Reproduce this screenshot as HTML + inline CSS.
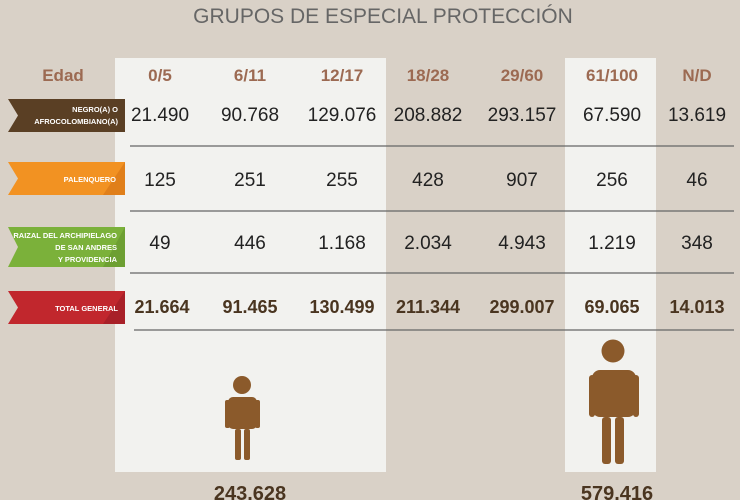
<!DOCTYPE html>
<html><head><meta charset="utf-8"><style>
html,body{margin:0;padding:0;background:#d9d1c7;}
svg{display:block;font-family:"Liberation Sans",sans-serif;}
</style></head><body>
<svg width="740" height="500" viewBox="0 0 740 500" xmlns="http://www.w3.org/2000/svg">
<rect width="740" height="500" fill="#d9d1c7"/>
<rect x="115" y="58" width="271" height="414" fill="#f2f2ef"/>
<rect x="565" y="58" width="91" height="414" fill="#f2f2ef"/>
<text x="383" y="23" font-size="21" fill="#666" text-anchor="middle">GRUPOS DE ESPECIAL PROTECCIÓN</text>
<g font-size="17" font-weight="bold" fill="#9c6a52" text-anchor="middle">
<text x="63" y="81">Edad</text><text x="160" y="81">0/5</text><text x="250" y="81">6/11</text><text x="342" y="81">12/17</text><text x="428" y="81">18/28</text><text x="522" y="81">29/60</text><text x="612" y="81">61/100</text><text x="697" y="81">N/D</text>
</g>
<g stroke="#666" stroke-width="1.3">
<line x1="130" y1="146" x2="734" y2="146"/><line x1="130" y1="211" x2="734" y2="211"/><line x1="130" y1="273" x2="734" y2="273"/><line x1="134" y1="330" x2="734" y2="330"/>
</g>
<polygon points="8,99 125,99 125,132 8,132 18,115.5" fill="#5a3f24"/>
<polygon points="8,162 125,162 125,195 8,195 18,178.5" fill="#f29222"/>
<polygon points="103,195 125,162 125,195" fill="#e07f1a"/>
<polygon points="8,227 125,227 125,267 8,267 18,247" fill="#7bb13a"/>
<polygon points="103,267 125,227 125,267" fill="#6d9f32"/>
<polygon points="8,291 125,291 125,324 8,324 18,307.5" fill="#c1272d"/>
<polygon points="103,324 125,291 125,324" fill="#a82028"/>
<g fill="#fff" font-size="7.5" font-weight="bold" text-anchor="end">
<text x="118" y="112">NEGRO(A) O</text><text x="118" y="124">AFROCOLOMBIANO(A)</text>
<text x="116" y="182">PALENQUERO</text>
<text x="117" y="238">RAIZAL DEL ARCHIPIELAGO</text><text x="117" y="250">DE SAN ANDRES</text><text x="117" y="262">Y PROVIDENCIA</text>
<text x="118" y="311">TOTAL GENERAL</text>
</g>
<g font-size="19" fill="#222" text-anchor="middle">
<text x="160" y="121">21.490</text><text x="250" y="121">90.768</text><text x="342" y="121">129.076</text><text x="428" y="121">208.882</text><text x="522" y="121">293.157</text><text x="612" y="121">67.590</text><text x="697" y="121">13.619</text>
<text x="160" y="186">125</text><text x="250" y="186">251</text><text x="342" y="186">255</text><text x="428" y="186">428</text><text x="522" y="186">907</text><text x="612" y="186">256</text><text x="697" y="186">46</text>
<text x="160" y="249">49</text><text x="250" y="249">446</text><text x="342" y="249">1.168</text><text x="428" y="249">2.034</text><text x="522" y="249">4.943</text><text x="612" y="249">1.219</text><text x="697" y="249">348</text>
</g>
<g font-size="18" font-weight="bold" fill="#4a3520" text-anchor="middle">
<text x="162" y="313">21.664</text><text x="250" y="313">91.465</text><text x="342" y="313">130.499</text><text x="428" y="313">211.344</text><text x="522" y="313">299.007</text><text x="612" y="313">69.065</text><text x="697" y="313">14.013</text>
</g>
<g font-size="20" font-weight="bold" fill="#4a3520" text-anchor="middle">
<text x="250" y="500">243.628</text><text x="617" y="500">579.416</text>
</g>
<g fill="#8b5a2b">
<circle cx="242" cy="385" r="9"/>
<rect x="228" y="397" width="29" height="32" rx="5"/>
<rect x="225" y="400" width="5" height="28" rx="2"/><rect x="255" y="400" width="5" height="28" rx="2"/>
<rect x="235" y="429" width="6" height="31" rx="2"/><rect x="244" y="429" width="6" height="31" rx="2"/>
<circle cx="613" cy="351" r="11.5"/>
<rect x="592" y="370" width="44" height="47" rx="8"/>
<rect x="589" y="375" width="6" height="42" rx="3"/><rect x="633" y="375" width="6" height="42" rx="3"/>
<rect x="602" y="417" width="9" height="47" rx="3"/><rect x="615" y="417" width="9" height="47" rx="3"/>
</g>
</svg>
</body></html>
